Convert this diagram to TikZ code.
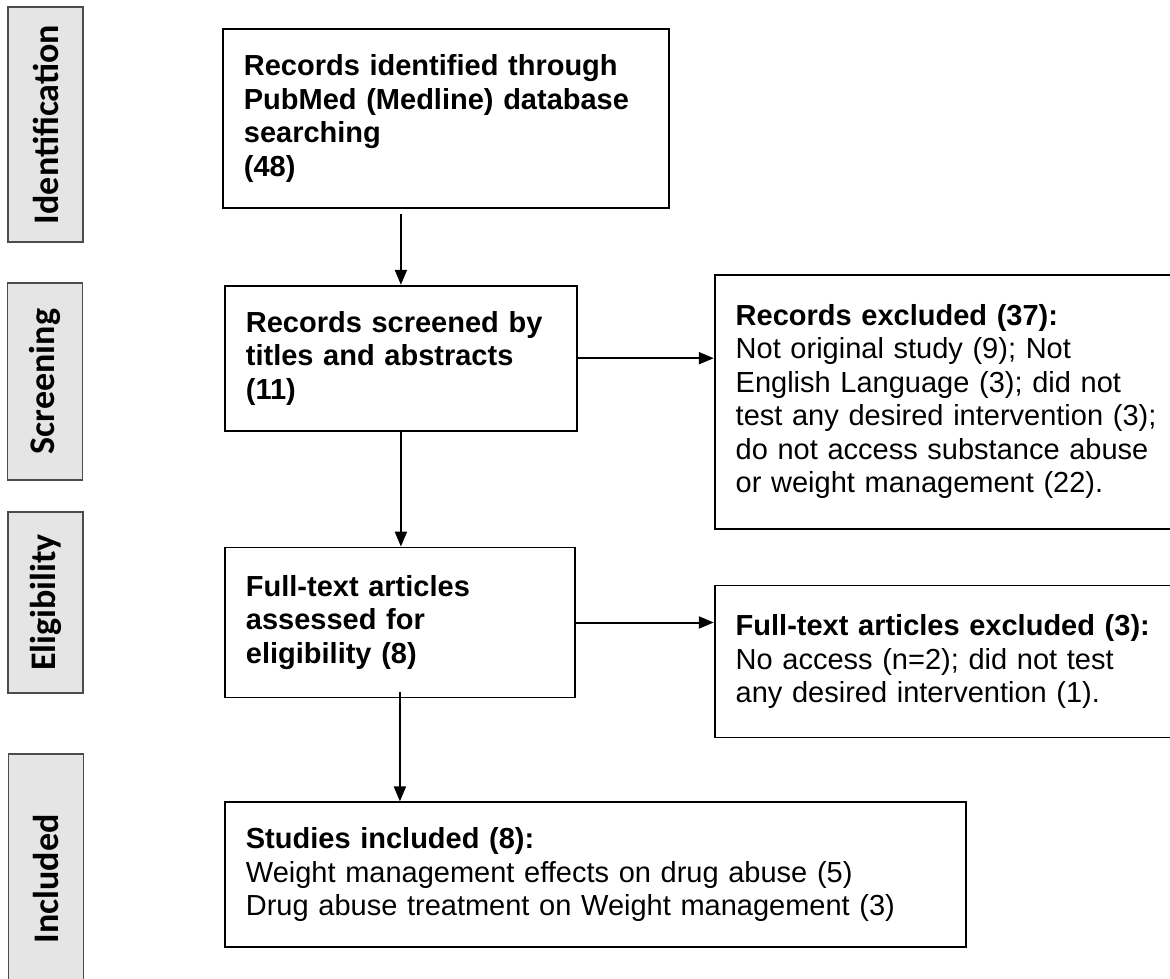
\documentclass[tikz,border=0pt]{standalone}
\usepackage{fontspec}
\setmainfont{Liberation Sans}
\newfontfamily\phasefont{Carlito}
\usetikzlibrary{arrows.meta, positioning}

\begin{document}
\begin{tikzpicture}[
  x=1pt, y=1pt,
  box/.style = {draw, line width=1.8pt, inner xsep=21pt, align=left, font=\fontsize{29}{33.5}\selectfont},
  title/.style = {box, font=\fontsize{29}{33.5}\selectfont\bfseries},
  phase/.style = {draw=black!70, fill=black!10, line width=1.3pt, rotate=90, minimum height=75pt, font=\phasefont\bfseries\fontsize{36}{40}\selectfont},
  arrow/.style = {line width=2pt, -{Triangle[length=15pt, width=12pt]}}
  ]

\useasboundingbox (0,0) rectangle (1170,-979);
\clip (0,0) rectangle (1170,-979);

% Left column: phases
\node[phase, minimum width=235pt] (identification) at (45.5,-124.5) {Identification};
\node[phase, minimum width=197pt] (screening) at (45,-381.5) {Screening};
\node[phase, minimum width=181pt] (eligibility) at (45.5,-602.5) {Eligibility};
\node[phase, minimum width=250pt] (includedphase) at (46,-879) {Included};

% Main column
\node[title, text width=404pt, minimum height=179pt, anchor=north west] (records) at (222,-28) {Records identified through\\PubMed (Medline) database\\searching\\(48)};
\node[title, text width=310pt, minimum height=145pt, below=76pt of records.south west, anchor=north west, xshift=2pt] (screened) {Records screened by\\titles and abstracts\\(11)};
\node[title, text width=308pt, minimum height=150pt, below=115pt of screened.south west, anchor=north west] (fulltext) {Full-text articles\\assessed for\\eligibility (8)};
\node[box, text width=699pt, minimum height=145pt, below=103pt of fulltext.south west, anchor=north west] (included) {\textbf{Studies included (8):}\\Weight management effects on drug abuse (5)\\Drug abuse treatment on Weight management (3)};

% Right column: exclusions
\node[box, text width=458pt, minimum height=254pt, right=136pt of screened.north east, anchor=north west, yshift=11pt] (excluded) {\textbf{Records excluded (37):}\\Not original study (9); Not\\English Language (3); did not\\test any desired intervention (3);\\do not access substance abuse\\or weight management (22).};
\node[box, text width=458pt, minimum height=152pt, right=138pt of fulltext.north east, anchor=north west, yshift=-38pt] (ftexcluded) {\textbf{Full-text articles excluded (3):}\\No access (n=2); did not test\\any desired intervention (1).};

% Draw arrows
\draw[arrow, shorten <=5pt] (records.south -| screened.north) -- (screened.north);
\draw[arrow] (screened.east) -- (screened.east -| excluded.west);
\draw[arrow] (screened.south) -- (screened.south |- fulltext.north);
\draw[arrow] (fulltext.east) -- (fulltext.east -| ftexcluded.west);
\draw[arrow, shorten <=-6pt] (fulltext.south) -- (fulltext.south |- included.north);
\end{tikzpicture}
\end{document}
